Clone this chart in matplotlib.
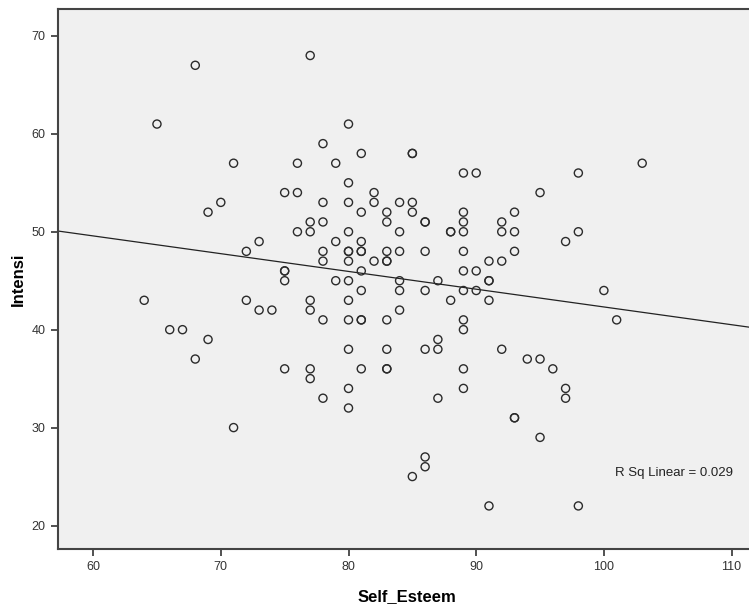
import numpy as np
import matplotlib
matplotlib.use("Agg")
import matplotlib.pyplot as plt

plt.rcParams['font.family'] = ['Liberation Sans', 'DejaVu Sans']

# Data (Self_Esteem, Intensi)
self_esteem = [68, 77, 65, 80, 78, 81, 85, 85, 71, 76, 79, 103, 89, 90, 98, 80,
               75, 76, 82, 95, 70, 78, 80, 82, 84, 85, 69, 81, 83, 85, 89, 93,
               77, 78, 83, 86, 86, 89, 92, 76, 77, 80, 84, 88, 88, 89, 92, 93, 98,
               73, 79, 81, 97, 72, 78, 80, 80, 81, 81, 83, 84, 86, 89, 93,
               78, 80, 82, 83, 83, 91, 92, 75, 75, 81, 89, 90,
               75, 79, 80, 84, 87, 91, 91, 81, 84, 86, 89, 90, 100,
               64, 72, 77, 80, 88, 91, 73, 74, 77, 84,
               78, 80, 81, 81, 83, 89, 101, 66, 67, 89, 69, 87,
               80, 83, 86, 87, 92, 68, 94, 95, 75, 77, 81, 83, 83, 89, 96,
               77, 80, 89, 97, 78, 87, 97, 80, 93, 93, 71, 95, 86, 86, 85, 91, 98]
intensi = [67, 68, 61, 61, 59, 58, 58, 58, 57, 57, 57, 57, 56, 56, 56, 55,
           54, 54, 54, 54, 53, 53, 53, 53, 53, 53, 52, 52, 52, 52, 52, 52,
           51, 51, 51, 51, 51, 51, 51, 50, 50, 50, 50, 50, 50, 50, 50, 50, 50,
           49, 49, 49, 49, 48, 48, 48, 48, 48, 48, 48, 48, 48, 48, 48,
           47, 47, 47, 47, 47, 47, 47, 46, 46, 46, 46, 46,
           45, 45, 45, 45, 45, 45, 45, 44, 44, 44, 44, 44, 44,
           43, 43, 43, 43, 43, 43, 42, 42, 42, 42,
           41, 41, 41, 41, 41, 41, 41, 40, 40, 40, 39, 39,
           38, 38, 38, 38, 38, 37, 37, 37, 36, 36, 36, 36, 36, 36, 36,
           35, 34, 34, 34, 33, 33, 33, 32, 31, 31, 30, 29, 27, 26, 25, 22, 22]

# Fit line (Intensi = intercept + slope * Self_Esteem)
fit_intercept = 60.46
fit_slope = -0.1814

x_ticks = [60, 70, 80, 90, 100, 110]
y_ticks = [20, 30, 40, 50, 60, 70]
r_sq_label = "R Sq Linear = 0.029"

x = np.array(self_esteem, dtype=float)
y = np.array(intensi, dtype=float)

fig = plt.figure(figsize=(7.49, 6.10), dpi=100)
ax = fig.add_axes([58/749, 1 - 549/610, 1 - 58/749 + 0.01, (549 - 9)/610])
ax.set_facecolor('#f0f0f0')

ax.scatter(x, y, s=34, facecolors='none', edgecolors='#2b2b2b', linewidths=1.0, zorder=3)

xlim = (57.25, 111.95)
ylim = (17.6, 72.75)
xs = np.array(xlim)
ax.plot(xs, fit_intercept + fit_slope * xs, color='#222222', linewidth=0.9, zorder=2)

ax.set_xlim(*xlim)
ax.set_ylim(*ylim)
ax.set_xticks(x_ticks)
ax.set_yticks(y_ticks)
ax.tick_params(axis='both', direction='out', length=5, width=1.2, color='#333333',
               labelsize=9, labelcolor='#333333', pad=4)
for side in ['left', 'bottom', 'top']:
    ax.spines[side].set_color('#444444')
    ax.spines[side].set_linewidth(1.5)
ax.spines['right'].set_visible(False)

ax.set_xlabel('Self_Esteem', fontsize=12, fontweight='bold', labelpad=11)
ax.set_ylabel('Intensi', fontsize=12, fontweight='bold', labelpad=4)

ax.text(100.9, 25.35, r_sq_label, fontsize=9.5, color='#222222', ha='left', va='center')

fig.savefig('out.png', dpi=100)
